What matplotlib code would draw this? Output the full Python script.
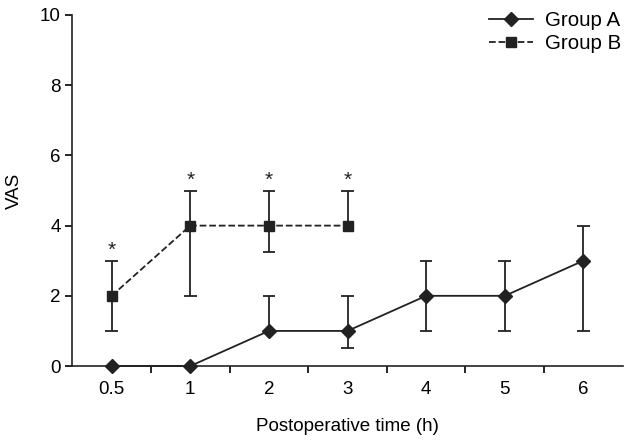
import numpy as np
import matplotlib.pyplot as plt

plt.rcParams['font.family'] = ['Liberation Sans', 'DejaVu Sans']

times = ["0.5", "1", "2", "3", "4", "5", "6"]

group_a = [0, 0, 1, 1, 2, 2, 3]
a_lower = [0, 0, 1, 0.5, 1, 1, 1]
a_upper = [0, 0, 2, 2, 3, 3, 4]

group_b = [2, 4, 4, 4]
b_lower = [1, 2, 3.25, 4]
b_upper = [3, 5, 5, 5]

star_y = [3.3, 5.3, 5.3, 5.3]

fig, ax = plt.subplots(figsize=(6.29, 4.41), dpi=100)
fig.subplots_adjust(left=0.115, right=0.99, bottom=0.17, top=0.966)

xa = np.arange(len(times))
xb = xa[:len(group_b)]
cap = 0.08
col = '#222222'

# error bars: stem plus a cap only at the ends that differ from the mean
for xs, vals, lows, highs in [(xa, group_a, a_lower, a_upper),
                              (xb, group_b, b_lower, b_upper)]:
    for x, v, lo, hi in zip(xs, vals, lows, highs):
        if hi > lo:
            ax.vlines(x, lo, hi, color=col, lw=1.3)
        if hi > v:
            ax.hlines(hi, x - cap, x + cap, color=col, lw=1.3)
        if lo < v:
            ax.hlines(lo, x - cap, x + cap, color=col, lw=1.3)

ax.plot(xa, group_a, '-', color=col, lw=1.3, marker='D', markersize=7,
        label='Group A', clip_on=False, zorder=5)
ax.plot(xb, group_b, '--', color=col, lw=1.3, marker='s', markersize=6.5,
        label='Group B', clip_on=False, zorder=5)

for x, y in zip(xb, star_y):
    ax.text(x, y, '*', ha='center', va='center', fontsize=15, color=col)

ax.set_xlim(-0.5, 6.5)
ax.set_ylim(0, 10)
ax.set_yticks(range(0, 11, 2))
ax.set_xticks(xa)
ax.set_xticklabels(times)
ax.tick_params(axis='x', length=0, labelsize=13.5, pad=11)
ax.set_xticks(np.arange(0.5, 6, 1), minor=True)
ax.tick_params(axis='x', which='minor', length=5, width=1.2, direction='out')
ax.tick_params(axis='y', length=5, width=1.2, labelsize=13.5)

for s in ['top', 'right']:
    ax.spines[s].set_visible(False)
for s in ['left', 'bottom']:
    ax.spines[s].set_linewidth(1.2)
    ax.spines[s].set_color(col)

ax.set_xlabel('Postoperative time (h)', fontsize=13.5, labelpad=14)
ax.set_ylabel('VAS', fontsize=13.5, labelpad=12)
ax.legend(loc='upper right', bbox_to_anchor=(1.012, 1.035), frameon=False,
          fontsize=14.8, handlelength=2.1, borderaxespad=0.0,
          handletextpad=0.6, labelspacing=0.2)

fig.savefig('out.png', dpi=100)
